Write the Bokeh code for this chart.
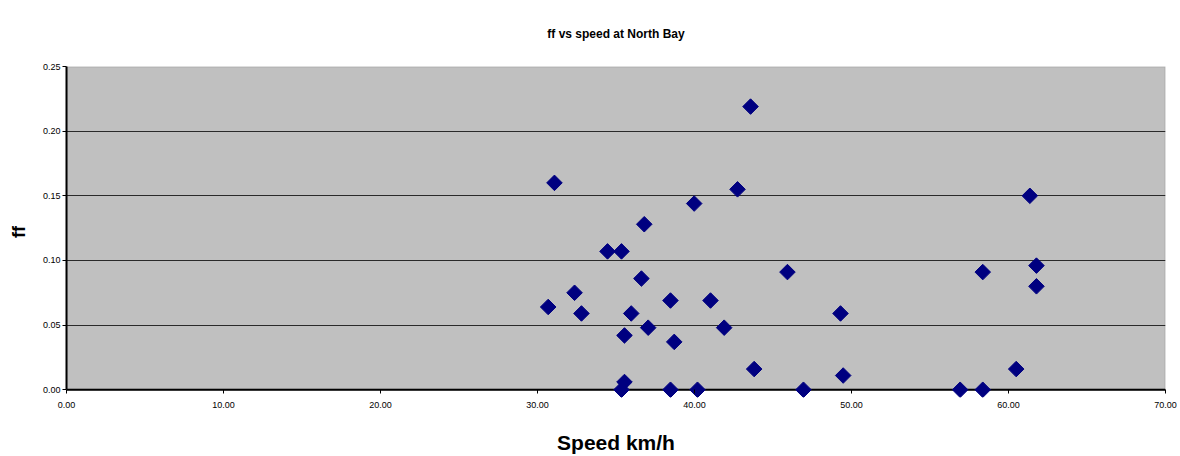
from bokeh.plotting import figure
from bokeh.models import (Range1d, FixedTicker, NumeralTickFormatter, BoxAnnotation,
                          ColumnDataSource, Span)
from bokeh.embed import file_html
from bokeh.resources import INLINE
import math

speed = [31.08, 30.68, 32.36, 32.80, 34.46, 35.35, 36.80, 36.62, 35.97, 35.54,
         37.05, 35.54, 35.35, 38.47, 38.71, 38.47, 39.98, 40.19, 41.02, 41.89,
         42.74, 43.57, 43.80, 45.92, 46.94, 49.30, 49.47, 56.92, 58.36, 58.36,
         60.49, 61.36, 61.78, 61.78]
ff = [0.160, 0.064, 0.075, 0.059, 0.107, 0.107, 0.128, 0.086, 0.059, 0.042,
      0.048, 0.006, 0.000, 0.069, 0.037, 0.000, 0.144, 0.000, 0.069, 0.048,
      0.155, 0.219, 0.016, 0.091, 0.000, 0.059, 0.011, 0.000, 0.091, 0.000,
      0.016, 0.150, 0.096, 0.080]
x_ticks = [0, 10, 20, 30, 40, 50, 60, 70]
y_ticks = [0.0, 0.05, 0.10, 0.15, 0.20, 0.25]
title_text = "ff vs speed at North Bay"
x_label = "Speed km/h"
y_label = "ff"

FONT = "Liberation Sans"
W, H = 1180, 456
YMIN = -0.006   # small strip below zero so diamonds on the axis are not cut

p = figure(width=W, height=H, output_backend="svg", toolbar_location=None,
           x_range=Range1d(0, 70), y_range=Range1d(YMIN, 0.25),
           min_border_left=66, min_border_right=15, min_border_top=66,
           min_border_bottom=57)
p.background_fill_color = "white"
p.border_fill_color = "white"
p.outline_line_color = None

p.title.text = title_text
p.title.text_font = FONT
p.title.text_font_size = "12px"
p.title.text_font_style = "bold"
p.title.text_color = "black"
p.title.align = "center"
p.title.vertical_align = "top"
p.title.offset = -5
p.title.standoff = 48

# gray plot area
p.add_layout(BoxAnnotation(left=0, right=70, bottom=0, top=0.25,
                           fill_color="#C0C0C0", fill_alpha=1.0,
                           line_color="#808080", line_width=2, level="image"))
# x axis line at zero
p.add_layout(Span(location=0, dimension="width", line_color="black",
                  line_width=2, level="underlay"))

p.xgrid.visible = False
p.ygrid.ticker = FixedTicker(ticks=[0.05, 0.10, 0.15, 0.20])
p.ygrid.grid_line_color = "#2a2a2a"
p.ygrid.grid_line_width = 1

for ax in (p.xaxis[0], p.yaxis[0]):
    ax.axis_line_color = "black"
    ax.axis_line_width = 2
    ax.major_tick_line_color = "black"
    ax.minor_tick_line_color = None
    ax.major_label_text_font = FONT
    ax.major_label_text_font_size = "9px"
    ax.major_label_text_color = "black"
    ax.axis_label_text_font = FONT
    ax.axis_label_text_font_style = "bold"
    ax.axis_label_text_color = "black"
    ax.formatter = NumeralTickFormatter(format="0.00")

xa = p.xaxis[0]
xa.ticker = FixedTicker(ticks=x_ticks)
xa.axis_line_color = None
xa.major_tick_in = 8
xa.major_tick_out = -4
xa.major_label_standoff = 4
xa.axis_label = x_label
xa.axis_label_text_font_size = "21px"
xa.axis_label_standoff = 20

ya = p.yaxis[0]
ya.ticker = FixedTicker(ticks=y_ticks)
ya.bounds = (0, 0.25)
ya.major_tick_in = 0
ya.major_tick_out = 4
ya.major_label_standoff = 2
ya.axis_label = y_label
ya.axis_label_text_font_size = "18px"
ya.axis_label_standoff = 11

src = ColumnDataSource(dict(x=speed, y=ff))
p.scatter("x", "y", source=src, marker="square", size=11, angle=math.pi / 4,
          fill_color="#000080", line_color="#000080")

open("out.html", "w").write(file_html(p, INLINE))
